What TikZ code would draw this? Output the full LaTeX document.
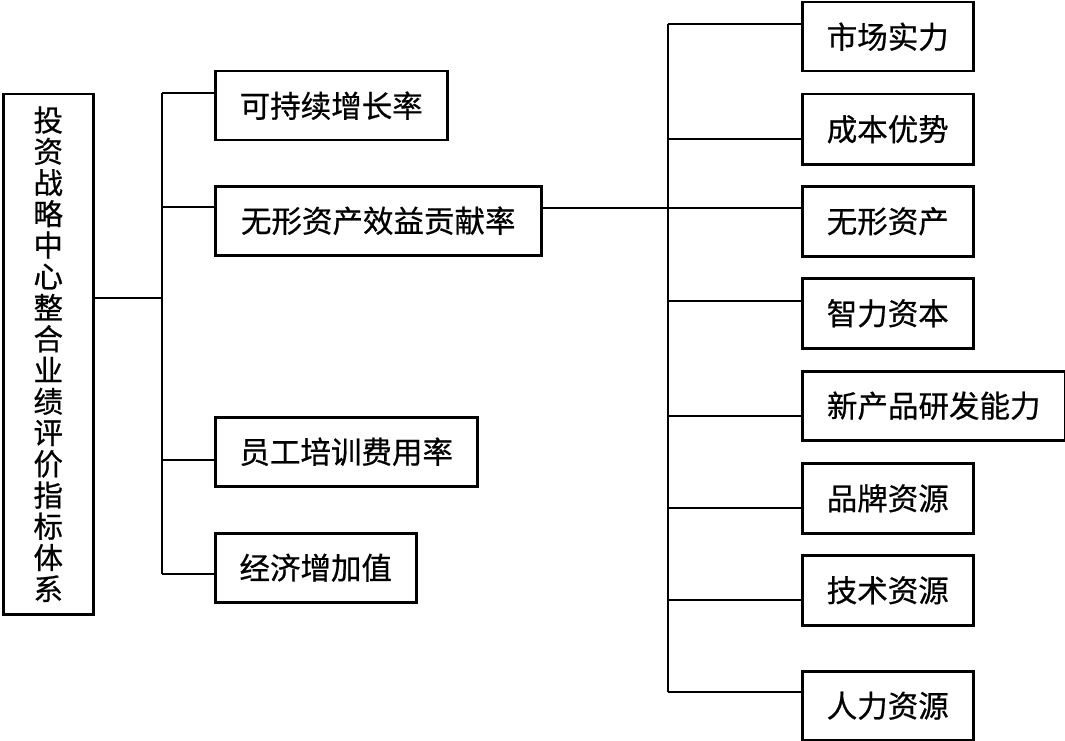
\documentclass[tikz,border=0pt]{standalone}
\usepackage{fontspec}
\newfontfamily\cjk[FakeBold=0.6]{Noto Sans CJK SC}
\begin{document}
\begin{tikzpicture}[x=1pt,y=-1pt,
  line width=2.5pt,
  box/.style={draw, line width=2.5pt, anchor=north west, inner sep=0pt,
    font=\cjk\fontsize{30.5}{32}\selectfont},
  conn/.style={draw, line width=2.5pt}]
\useasboundingbox (0,0) rectangle (1065,741);
\fill[white] (0,0) rectangle (1065,741);
% root
\node[box, minimum width=90, minimum height=520, align=center,
  font=\cjk\fontsize{29.5}{31.25}\selectfont] (L) at (2,93)
  {投\\资\\战\\略\\中\\心\\整\\合\\业\\绩\\评\\价\\指\\标\\体\\系};
% middle boxes
\node[box, minimum width=232, minimum height=69] (A) at (214,70) {可持续增长率};
\node[box, minimum width=326, minimum height=69] (B) at (214,185) {无形资产效益贡献率};
\node[box, minimum width=262, minimum height=69] (C) at (214,416) {员工培训费用率};
\node[box, minimum width=201, minimum height=69] (D) at (214,532) {经济增加值};
% right boxes
\node[box, minimum width=171, minimum height=69] (R1) at (801,1) {市场实力};
\node[box, minimum width=171, minimum height=70] (R2) at (801,93) {成本优势};
\node[box, minimum width=171, minimum height=70] (R3) at (801,185) {无形资产};
\node[box, minimum width=171, minimum height=70] (R4) at (801,277) {智力资本};
\node[box, minimum width=263, minimum height=69] (R5) at (801,370) {新产品研发能力};
\node[box, minimum width=171, minimum height=70] (R6) at (801,462) {品牌资源};
\node[box, minimum width=171, minimum height=70] (R7) at (801,554) {技术资源};
\node[box, minimum width=171, minimum height=69] (R8) at (801,670) {人力资源};
% left spine
\coordinate (j0) at (162,298);
\coordinate (a1) at (162,93);
\coordinate (a2) at (162,207);
\coordinate (a3) at (162,460);
\coordinate (a4) at (162,574);
\draw[conn] (L.east |- j0) -- (j0);
\draw[conn] (a1) -- (a4);
\draw[conn] (a1) -- (a1 -| A.west);
\draw[conn] (a2) -- (a2 -| B.west);
\draw[conn] (a3) -- (a3 -| C.west);
\draw[conn] (a4) -- (a4 -| D.west);
% right spine
\coordinate (k0) at (668,208);
\coordinate (b1) at (668,24);
\coordinate (b2) at (668,139);
\coordinate (b3) at (668,208);
\coordinate (b4) at (668,301);
\coordinate (b5) at (668,416);
\coordinate (b6) at (668,508);
\coordinate (b7) at (668,600);
\coordinate (b8) at (668,692);
\draw[conn] (B.east |- k0) -- (k0);
\draw[conn] (b1) -- (b8);
\draw[conn] (b1) -- (b1 -| R1.west);
\draw[conn] (b2) -- (b2 -| R2.west);
\draw[conn] (b3) -- (b3 -| R3.west);
\draw[conn] (b4) -- (b4 -| R4.west);
\draw[conn] (b5) -- (b5 -| R5.west);
\draw[conn] (b6) -- (b6 -| R6.west);
\draw[conn] (b7) -- (b7 -| R7.west);
\draw[conn] (b8) -- (b8 -| R8.west);
\end{tikzpicture}
\end{document}
